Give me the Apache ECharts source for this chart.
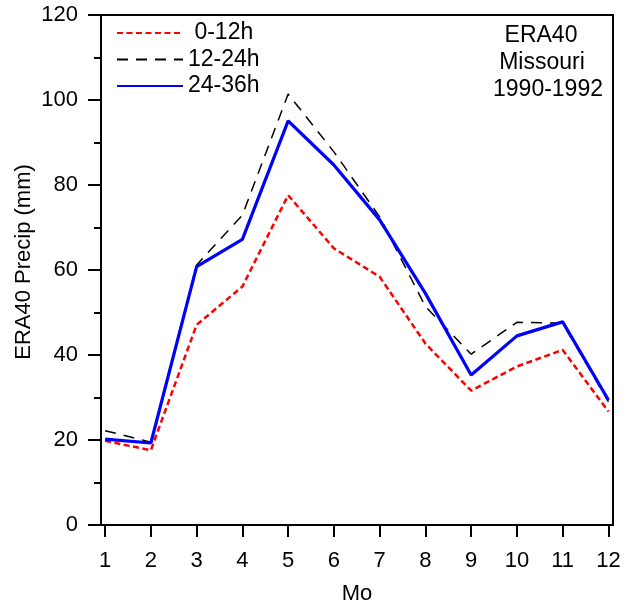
<!DOCTYPE html>
<html>
<head>
<meta charset="utf-8">
<script src="https://cdn.jsdelivr.net/npm/echarts@6/dist/echarts.min.js"></script>
<style>
  html, body { margin: 0; padding: 0; background: #fff; }
  #chart { width: 627px; height: 609px; }
</style>
</head>
<body>
<div id="chart"></div>
<script>
// Monthly mean ERA40 precipitation over Missouri, 1990-1992, by forecast range
const months = [1, 2, 3, 4, 5, 6, 7, 8, 9, 10, 11, 12];
const precip0to12 = [19.8, 17.6, 47.1, 56.1, 77.6, 65.1, 58.4, 42.7, 31.6, 37.3, 41.2, 26.7];
const precip12to24 = [22.2, 19.5, 61.2, 72.9, 101.4, 87.8, 72.5, 51.4, 40.2, 47.7, 47.5, 29.0];
const precip24to36 = [20.2, 19.3, 60.8, 67.2, 95.1, 84.7, 71.8, 54.5, 35.3, 44.5, 47.8, 29.4];
const seriesNames = ['0-12h', '12-24h', '24-36h'];
const yTicks = [0, 20, 40, 60, 80, 100, 120];
const annotationLines = ['ERA40', 'Missouri', '1990-1992'];

const FONT = "'Liberation Sans', Arial, sans-serif";
const AXIS_FS = 22;
const TEXT_FS = 23;
const pairs = vals => months.map((m, i) => [m, vals[i]]);

const chart = echarts.init(document.getElementById('chart'), null, { renderer: 'canvas' });

chart.setOption({
  animation: false,
  backgroundColor: '#fff',
  textStyle: { fontFamily: FONT },
  grid: {
    left: 101, right: 14, top: 15, bottom: 84,
    containLabel: false,
    outerBoundsMode: 'none',
    show: true, borderColor: '#000', borderWidth: 2, backgroundColor: 'transparent'
  },
  legend: {
    orient: 'vertical',
    left: 116, top: 17,
    padding: 0,
    itemWidth: 66, itemHeight: 14, itemGap: -5.5,
    data: seriesNames,
    itemStyle: { opacity: 0 },
    formatter: name => (name === seriesNames[0] ? ' ' : '') + name,
    textStyle: { fontSize: TEXT_FS, color: '#000', fontFamily: FONT, lineHeight: 22, padding: [10, 0, 0, 0] }
  },
  xAxis: {
    type: 'value',
    min: 0.91, max: 12.1,
    name: 'Mo',
    nameLocation: 'middle',
    nameGap: 58,
    nameMoveOverlap: false,
    nameTextStyle: { fontSize: AXIS_FS, color: '#000', fontFamily: FONT },
    axisLine: { show: true, lineStyle: { color: '#000', width: 2 } },
    axisTick: { show: true, customValues: months, length: 12, lineStyle: { color: '#000', width: 2 } },
    axisLabel: { customValues: months, fontSize: AXIS_FS, color: '#000', margin: 25, fontFamily: FONT },
    splitLine: { show: false }
  },
  yAxis: {
    type: 'value',
    min: yTicks[0], max: yTicks[yTicks.length - 1], interval: 20,
    name: 'ERA40 Precip (mm)',
    nameLocation: 'middle',
    nameGap: 66,
    nameMoveOverlap: false,
    nameTextStyle: { fontSize: AXIS_FS, color: '#000', fontFamily: FONT, padding: [0, 0, 0, 16] },
    axisLine: { show: true, lineStyle: { color: '#000', width: 2 } },
    axisTick: { show: true, length: 13, lineStyle: { color: '#000', width: 2 } },
    minorTick: { show: true, splitNumber: 2, length: 7, lineStyle: { color: '#000', width: 2 } },
    axisLabel: { fontSize: AXIS_FS, color: '#000', margin: 23, fontFamily: FONT },
    splitLine: { show: false },
    minorSplitLine: { show: false }
  },
  series: [
    {
      name: seriesNames[0], type: 'line', data: pairs(precip0to12),
      symbol: 'none', z: 2,
      lineStyle: { color: '#ff0000', width: 2.5, type: [6, 3.5] },
      itemStyle: { color: '#ff0000' }
    },
    {
      name: seriesNames[1], type: 'line', data: pairs(precip12to24),
      symbol: 'none', z: 3,
      lineStyle: { color: '#000', width: 1.5, type: [11, 8] },
      itemStyle: { color: '#000' }
    },
    {
      name: seriesNames[2], type: 'line', data: pairs(precip24to36),
      symbol: 'none', z: 4,
      lineStyle: { color: '#0000ff', width: 3.2, type: 'solid' },
      itemStyle: { color: '#0000ff' }
    }
  ],
  graphic: annotationLines.map((t, i) => ({
    type: 'text',
    x: [541, 542, 548][i],
    y: 36 + i * 26.8,
    z: 10,
    style: {
      text: t, fill: '#000', font: TEXT_FS + 'px ' + FONT,
      textAlign: 'center', textVerticalAlign: 'middle'
    }
  }))
});
</script>
</body>
</html>
